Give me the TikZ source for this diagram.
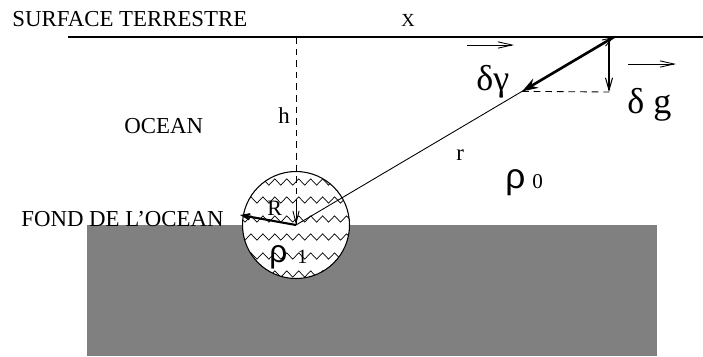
\documentclass[tikz,border=0pt]{standalone}
\usepackage{fontspec}
\setmainfont{Liberation Serif}
\newfontfamily\gksans{Liberation Sans}
\usetikzlibrary{arrows.meta,decorations.pathmorphing,calc}
\begin{document}
\begin{tikzpicture}[x=0.02cm,y=-0.02cm,
  lab/.style={inner sep=0pt, anchor=base west, font=\fontsize{13}{15}\selectfont},
  greek/.style={inner sep=0pt, anchor=base west, font=\fontsize{20.5}{22}\selectfont},
  vec/.style={line width=0.5pt, -{Straight Barb[length=8pt,width=3.6pt]}},
  zz/.style={decorate, decoration={zigzag, segment length=6.8pt, amplitude=1.8pt}, line width=0.4pt},
  thinarrow/.style={line width=0.6pt, -{Straight Barb[length=7pt,width=4pt]}},
  dashedline/.style={line width=0.5pt, dash pattern=on 3.8pt off 2.8pt}
]
\useasboundingbox (0,0) rectangle (703,356);
% sea floor block
\fill[black!50] (87,225) rectangle (657,356);
% key points
\coordinate (C) at (296,225);
\coordinate (P) at (614,37);
\coordinate (T) at ($(C)!0.711!(P)$);
\coordinate (G) at (609,92);
\coordinate (Gtop) at (609,38);
\coordinate (Htop) at (296,37);
\coordinate (E) at (240,215);
\coordinate (SL) at (68,37);
\coordinate (SR) at (703,37);
% sphere
\fill[white] (C) circle[radius=53.5];
\begin{scope}
  \clip (C) circle[radius=53.5];
  \foreach \yy in {182,200,219,237,256,274} {
    \draw[zz] (236,\yy) -- (360,\yy);
  }
\end{scope}
\draw[line width=0.6pt] (C) circle[radius=53.5];
% surface
\draw[line width=1.7pt] (SL) -- (SR);
% depth h
\draw[dashedline] (Htop) -- (C);
\draw[line width=0.5pt, -{Straight Barb[length=7pt,width=3.5pt]}] ($(C)+(0,-22)$) -- (C);
% radius R
\draw[line width=1.2pt, -{Straight Barb[length=4pt,width=3pt]}] (C) -- (E);
% r line
\draw[line width=0.5pt, -{Straight Barb[length=6pt,width=4pt]}] (C) -- (P);
% delta gamma
\draw[line width=1.5pt, -{Stealth[length=9pt,width=6pt]}] (P) -- (T);
% delta g
\draw[thinarrow] (Gtop) -- (G);
\draw[dashedline] (T) -- (G);
% labels
\node[lab] (surf) at (12,26) {SURFACE TERRESTRE};
\node[lab, font=\fontsize{10.5}{12}\selectfont] (xlab) at (401,26) {X};
\node[lab] (ocean) at (124,133) {OCEAN};
\node[lab] (hlab) at (278,123) {h};
\node[lab] (rlab) at (456,160) {r};
\node[lab] (fond) at (21,226) {FOND DE L’OCEAN};
\node[lab, font=\fontsize{12.5}{14}\selectfont] (Rlab) at (267,215) {R};
\node[greek] (dgam) at (476,90) {δγ};
\node[greek] (dg) at (627,113) {δ g};
\node[inner sep=0pt, anchor=base west, font=\gksans\fontsize{20}{22}\selectfont] (rho0) at (505,188) {ρ};
\node[inner sep=0pt, anchor=base west, font=\fontsize{12}{14}\selectfont] (zero) at (532,188) {0};
\node[inner sep=0pt, anchor=base west, font=\gksans\fontsize{18}{20}\selectfont] (rho1) at (269,262) {ρ};
\node[inner sep=0pt, anchor=base west, font=\fontsize{11.5}{13}\selectfont] (one) at (297,263) {1};
% vector arrows
\coordinate (va1) at (467,45);
\coordinate (va2) at (514,45);
\coordinate (vb1) at (628,64);
\coordinate (vb2) at (676,64);
\draw[vec] (va1) -- (va2);
\draw[vec] (vb1) -- (vb2);
\end{tikzpicture}
\end{document}
